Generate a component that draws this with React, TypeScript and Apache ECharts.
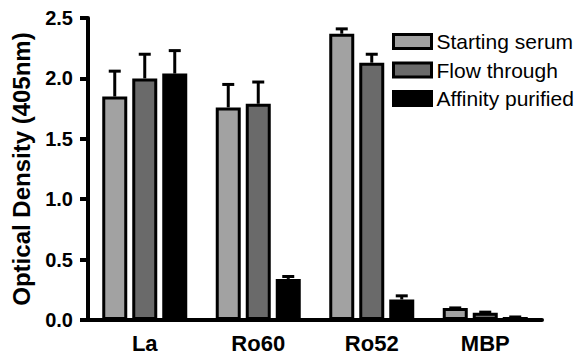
import React, { useEffect, useRef } from "react";
import * as echarts from "echarts";

const categories = ["La", "Ro60", "Ro52", "MBP"];
const seriesNames = ["Starting serum", "Flow through", "Affinity purified"];
const startingSerum = [1.85, 1.76, 2.37, 0.1];
const flowThrough = [2.0, 1.79, 2.13, 0.06];
const affinityPurified = [2.04, 0.34, 0.17, 0.025];
const startingSerumErr = [2.06, 1.95, 2.41, 0.1];
const flowThroughErr = [2.2, 1.97, 2.2, 0.065];
const affinityPurifiedErr = [2.23, 0.36, 0.2, 0.025];
const colors = ["#a2a2a2", "#6a6a6a", "#000000"];

const FONT = "Liberation Sans, Arial, sans-serif";

export default function App() {
  const ref = useRef<HTMLDivElement>(null);
  useEffect(() => {
    if (!ref.current) return;
    const chart = echarts.init(ref.current, undefined, { renderer: "svg" });
    const values = [startingSerum, flowThrough, affinityPurified];
    const errs = [startingSerumErr, flowThroughErr, affinityPurifiedErr];
    const errData: number[][] = [];
    values.forEach((arr, s) =>
      arr.forEach((v, c) => errData.push([c, s, v, errs[s][c]]))
    );
    const SPACING = 30;
    chart.setOption({
      animation: false,
      textStyle: { fontFamily: FONT },
      grid: { left: 88, right: 46, top: 18, bottom: 38 },
      legend: {
        orient: "vertical",
        left: 392,
        top: 31,
        padding: 0,
        itemWidth: 38,
        itemHeight: 14,
        itemGap: 7.5,
        icon: "rect",
        data: seriesNames,
        itemStyle: { borderColor: "#000", borderWidth: 3 },
        textStyle: { fontSize: 21, lineHeight: 21, color: "#000", fontFamily: FONT },
      },
      xAxis: {
        type: "category",
        data: categories,
        axisLine: { lineStyle: { color: "#000", width: 4 } },
        axisTick: { alignWithLabel: true, length: 8, lineStyle: { color: "#000", width: 4 } },
        axisLabel: { color: "#000", fontWeight: "bold", fontSize: 22, margin: 12, fontFamily: FONT },
      },
      yAxis: {
        type: "value",
        min: 0,
        max: 2.5,
        interval: 0.5,
        name: "Optical Density (405nm)",
        nameLocation: "middle",
        nameGap: 55,
        nameTextStyle: { color: "#000", fontWeight: "bold", fontSize: 24, fontFamily: FONT },
        splitLine: { show: false },
        axisLine: { show: true, lineStyle: { color: "#000", width: 4 } },
        axisTick: { show: true, length: 8, lineStyle: { color: "#000", width: 4 } },
        axisLabel: {
          color: "#000",
          fontWeight: "bold",
          fontSize: 20,
          margin: 15,
          fontFamily: FONT,
          formatter: (v: number) => v.toFixed(1),
        },
      },
      series: [
        ...values.map((arr, i) => ({
          type: "bar",
          name: seriesNames[i],
          data: arr,
          barWidth: 25,
          barGap: "20%",
          itemStyle: { color: colors[i], borderColor: "#000", borderWidth: 3 },
        })),
        {
          type: "custom",
          name: "err",
          data: errData,
          z: 5,
          renderItem: (params: any, api: any) => {
            const c = api.value(0);
            const s = api.value(1);
            const v = api.value(2);
            const e = api.value(3);
            const base = api.coord([c, v]);
            const top = api.coord([c, e]);
            const x = base[0] + (s - 1) * SPACING;
            return {
              type: "group",
              children: [
                {
                  type: "line",
                  shape: { x1: x, y1: base[1], x2: x, y2: top[1] },
                  style: { stroke: "#000", lineWidth: 3 },
                },
                {
                  type: "line",
                  shape: { x1: x - 6, y1: top[1], x2: x + 6, y2: top[1] },
                  style: { stroke: "#000", lineWidth: 3 },
                },
              ],
            };
          },
        },
      ],
    });
    return () => chart.dispose();
  }, []);
  return <div ref={ref} style={{ width: 588, height: 358, position: "absolute", left: 0, top: 0 }} />;
}
